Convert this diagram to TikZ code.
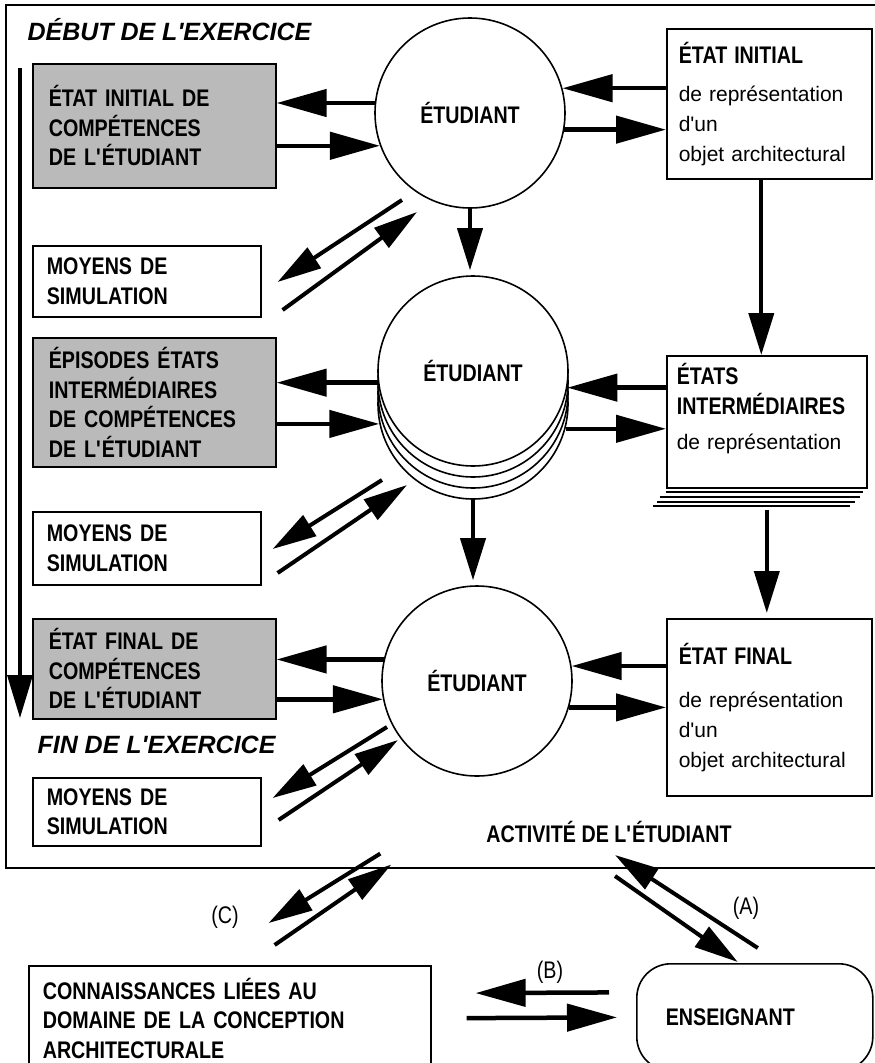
\documentclass[tikz,border=0pt]{standalone}
\usepackage{fontspec}
\setmainfont{Liberation Sans}
\newfontfamily\narrowfont{Liberation Sans}[FakeStretch=0.82]
\usetikzlibrary{arrows.meta, calc, positioning, shapes}
\newcommand\diagfont{\narrowfont\fontsize{24}{29.5}\selectfont}
\newcommand\titlefont{\fontsize{25}{29}\selectfont\bfseries\itshape}
\newcommand\apo{\textquotesingle}
\tikzset{
    bigarrow/.style={line width=4.5pt, -{Triangle[length=50pt,width=27pt]}},
    diagarrow/.style={line width=4pt, -{Triangle[length=44pt,width=24pt]}},
    downarrow/.style={line width=4pt, -{Triangle[length=42pt,width=25pt]}},
    textbox/.style={draw, line width=1.6pt, anchor=north west, align=left, inner ysep=0pt, font=\diagfont\bfseries},
    graybox/.style={textbox, fill=black!27, text width=211pt, inner xsep=16pt},
    moyens/.style={textbox, fill=white, text width=200pt, inner xsep=14pt},
    etatbox/.style={textbox, fill=white, text width=181pt, inner xsep=12pt, font=\fontsize{21}{30}\selectfont},
    etudiant/.style={draw, circle, line width=1.6pt, fill=white, minimum size=190pt, inner sep=0pt, font=\diagfont\bfseries}
}
\begin{document}
\begin{tikzpicture}[x=1pt, y=-1pt]
    \useasboundingbox (0,0) rectangle (875,1063);
    \tikzstyle{label}=[font=\narrowfont\fontsize{24}{28}\selectfont];
    \node[draw, line width=1.6pt, anchor=north west, minimum width=877pt, minimum height=863pt, inner sep=0pt] (cadre) at (5,4) {};
    \node[anchor=west, font=\titlefont] (debut) at (24,30) {DÉBUT DE L\apo EXERCICE};
    \node[anchor=west, font=\titlefont] (fin) at (34,745) {FIN DE L\apo EXERCICE};
    \node[font=\diagfont\bfseries] (act) at (609,832) {ACTIVITÉ DE L\apo ÉTUDIANT};
    \coordinate (tdebut) at (20,68);
    \coordinate (tfin) at (20,718);
    \draw[line width=3.5pt, -{Triangle[length=43pt,width=25pt]}] (tdebut) -- (tfin);

    % competences
    \node[graybox, minimum height=124pt] (g1) at (32,63) {ÉTAT INITIAL DE\\COMPÉTENCES\\DE L\apo ÉTUDIANT};
    \node[graybox, minimum height=129pt] (g2) at (32,337) {ÉPISODES ÉTATS\\INTERMÉDIAIRES\\DE COMPÉTENCES\\DE L\apo ÉTUDIANT};
    \node[graybox, minimum height=100pt] (g3) at (32,618) {ÉTAT FINAL DE\\COMPÉTENCES\\DE L\apo ÉTUDIANT};
    \foreach \y/\h/\n in {245/71/m1, 511/73/m2, 777/68/m3}
        \node[moyens, minimum height=\h pt] (\n) at (32,\y) {MOYENS DE\\SIMULATION};

    % representation
    \node[etatbox, minimum height=150pt] (r1) at (666,28) {{\diagfont\bfseries ÉTAT INITIAL}\\[8pt]de représentation\\d\apo un\\objet architectural};
    \foreach \d/\a/\b in {5/0/3, 10/6/6, 15/9/11, 19/13/16}
        \draw[line width=1.6pt] ($(666,487)+(-\a,\d)$) -- ($(866,487)+(-\b,\d)$);
    \node[etatbox, text width=180pt, inner xsep=10pt, minimum height=132pt] (r2) at (666,355) {{\diagfont\bfseries ÉTATS}\\{\diagfont\bfseries INTERMÉDIAIRES}\\[5pt]de représentation\\~};
    \node[etatbox, minimum height=177pt] (r3) at (666,618) {{\diagfont\bfseries ÉTAT FINAL}\\[13pt]de représentation\\d\apo un\\objet architectural};

    % etudiant
    \node[etudiant] (c1) at (470,113) {ÉTUDIANT};
    \foreach \d/\n in {33/c2d, 22/c2c, 11/c2b}
        \node[etudiant] (\n) at (473,{371+\d}) {};
    \node[etudiant] (c2) at (473,371) {ÉTUDIANT};
    \node[etudiant] (c3) at (477,681) {ÉTUDIANT};

    \draw[bigarrow] (c1.174) -- (c1.174 -| g1.east);
    \draw[bigarrow] (c1.200 -| g1.east) -- (c1.200);
    \draw[bigarrow] (c1.15 -| r1.west) -- (c1.15);
    \draw[bigarrow] (c1.350) -- (c1.350 -| r1.west);
    \draw[bigarrow] (c2.187) -- (c2.187 -| g2.east);
    \draw[bigarrow] (c2d.192 -| g2.east) -- (c2d.192);
    \draw[bigarrow] (c2.350 -| r2.west) -- (c2.350);
    \draw[bigarrow] (c2d.345) -- (c2d.345 -| r2.west);
    \draw[bigarrow] (c3.167) -- (c3.167 -| g3.east);
    \draw[bigarrow] (c3.191 -| g3.east) -- (c3.191);
    \draw[bigarrow] (c3.9 -| r3.west) -- (c3.9);
    \draw[bigarrow] (c3.344) -- (c3.344 -| r3.west);

    \draw[downarrow, shorten >=5pt] (c1.south) -- (c1.south |- c2.north);
    \draw[downarrow, shorten >=5pt] (c2d.south) -- (c2d.south |- c3.north);
    \coordinate (r1s) at ([xshift=-8pt]r1.south);
    \coordinate (r2s) at ([yshift=-21pt]r2.south);
    \draw[downarrow] (r1s) -- (r1s |- r2.north);
    \draw[downarrow, shorten >=5pt] (r2s) -- (r2s |- r3.north);

    \draw[diagarrow] ([shift={(-68,87)}]c1.center) -- ([shift={(16,37)}]m1.north east);
    \draw[diagarrow] ([shift={(21,65)}]m1.north east) -- ([shift={(-53,99)}]c1.center);
    \draw[diagarrow] ([shift={(-91,76)}]c2d.center) -- ([shift={(11,38)}]m2.north east);
    \draw[diagarrow] ([shift={(16,62)}]m2.north east) -- ([shift={(-66,81)}]c2d.center);
    \draw[diagarrow] ([shift={(-90,46)}]c3.center) -- ([shift={(11,21)}]m3.north east);
    \draw[diagarrow] ([shift={(17,43)}]m3.north east) -- ([shift={(-79,59)}]c3.center);

    % enseignant
    \node[textbox, text width=374pt, inner xsep=14pt, minimum height=105pt] (kn) at (28,965) {CONNAISSANCES LIÉES AU\\DOMAINE DE LA CONCEPTION\\ARCHITECTURALE};
    \node[textbox, rounded corners=34pt, text width=178pt, inner xsep=29pt, minimum height=107pt] (ens) at (636,963) {ENSEIGNANT};
    \node[label] (la) at (746,908) {(A)};
    \node[label] (lb) at (550,972) {(B)};
    \node[label] (lc) at (225,917) {(C)};

    \draw[diagarrow] ([shift={(-64,-15)}]cadre.south) -- ([shift={(-163,-42)}]kn.north east);
    \draw[diagarrow] ([shift={(-157,-20)}]kn.north east) -- ([shift={(-53,-4)}]cadre.south);
    \draw[diagarrow] ([shift={(6,44)}]act.center) -- ([shift={(-17,-1)}]ens.north);
    \draw[diagarrow] ([shift={(3,-15)}]ens.north) -- ([shift={(6,23)}]act.center);
    \draw[bigarrow, shorten <=27pt, shorten >=44pt] ([yshift=25pt]ens.west) -- ([yshift=25pt]kn.east);
    \draw[bigarrow, shorten <=35pt, shorten >=19pt] (kn.east) -- (ens.west);
\end{tikzpicture}
\end{document}
